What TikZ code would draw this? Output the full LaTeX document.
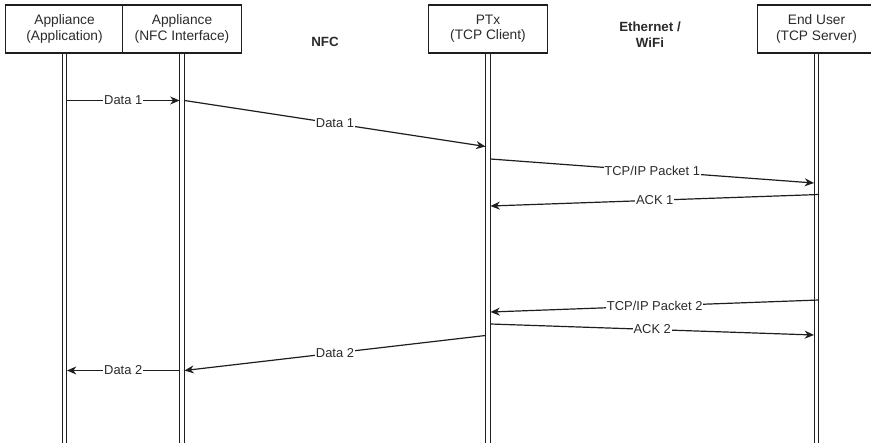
\documentclass[tikz,border=0pt]{standalone}
\usepackage{fontspec}
\setmainfont{Liberation Sans}
\usetikzlibrary{arrows.meta}
\definecolor{txt}{HTML}{2B2B2B}
\definecolor{ln}{HTML}{1E1E1E}
\begin{document}
\begin{tikzpicture}[x=0.75pt,y=-0.75pt,
  actor/.style={draw=ln,line width=0.9pt,fill=white,minimum width=89pt,minimum height=36pt,
    align=center,font=\fontsize{10.3pt}{11.5pt}\selectfont,text=txt,inner sep=0pt},
  lifeline/.style={draw=ln,line width=0.8pt,double=white,double distance=2.3pt},
  msg/.style={draw=ln,line width=0.9pt,-{Stealth[length=7pt,width=6pt]}},
  lbl/.style={fill=white,inner sep=0.6pt,font=\fontsize{9.7pt}{11pt}\selectfont,text=txt},
  zone/.style={align=center,font=\bfseries\fontsize{10pt}{12pt}\selectfont,text=txt}]
\clip (0,0) rectangle (871,443);
\fill[white] (0,0) rectangle (871,443);
% lifelines
\coordinate (l1) at (64.5,443);
\coordinate (l2) at (182,443);
\coordinate (l3) at (488,443);
\coordinate (l4) at (816.5,443);
\node[actor] (app) at (64.5,29) {Appliance\\(Application)};
\node[actor] (nfc) at (182,29) {Appliance\\(NFC Interface)};
\node[actor] (ptx) at (488,29) {PTx\\(TCP Client)};
\node[actor] (eu) at (816.5,29) {End User\\(TCP Server)};
\draw[lifeline] (app.south) -- (l1);
\draw[lifeline] (nfc.south) -- (l2);
\draw[lifeline] (ptx.south) -- (l3);
\draw[lifeline] (eu.south) -- (l4);
\node[zone] (zn) at (325,42) {NFC};
\node[zone] (ze) at (650,35) {Ethernet /\\WiFi};
% message anchor points
\coordinate (a1) at (67,100.5);
\coordinate (b1) at (179.5,100.5);
\coordinate (b2) at (184.5,100.5);
\coordinate (c2) at (485.5,146.5);
\coordinate (c3) at (490.5,159);
\coordinate (d3) at (814,183);
\coordinate (d4) at (819,194.5);
\coordinate (c4) at (490.5,206);
\coordinate (d5) at (819,300);
\coordinate (c5) at (490.5,312);
\coordinate (c6) at (490.5,324);
\coordinate (d6) at (814,335);
\coordinate (c7) at (485.5,335.5);
\coordinate (b7) at (184.5,370.5);
\coordinate (b8) at (179.5,370.5);
\coordinate (a8) at (67,370.5);
% messages
\draw[msg] (a1) -- node[lbl] {Data 1} (b1);
\draw[msg] (b2) -- node[lbl] {Data 1} (c2);
\draw[msg] (c3) -- node[lbl] {TCP/IP Packet 1} (d3);
\draw[msg] (d4) -- node[lbl] {ACK 1} (c4);
\draw[msg] (d5) -- node[lbl] {TCP/IP Packet 2} (c5);
\draw[msg] (c6) -- node[lbl] {ACK 2} (d6);
\draw[msg] (c7) -- node[lbl] {Data 2} (b7);
\draw[msg] (b8) -- node[lbl] {Data 2} (a8);
\end{tikzpicture}
\end{document}
